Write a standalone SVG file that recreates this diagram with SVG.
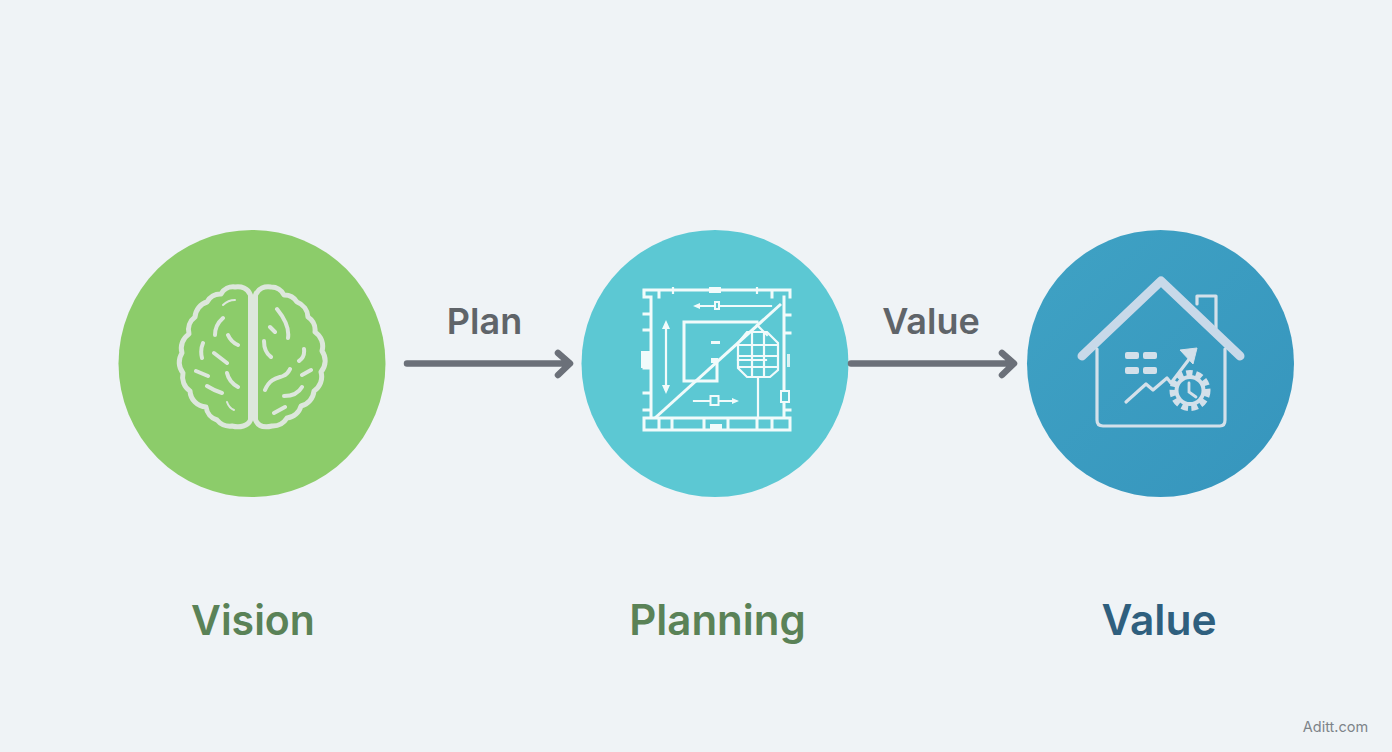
<svg xmlns="http://www.w3.org/2000/svg" width="1392" height="752" viewBox="0 0 1392 752">
<style>
.t{font-family:"Inter","Liberation Sans",sans-serif;font-weight:600;text-anchor:middle}
.arr{fill:#5f6469}
.conn{fill:none;stroke:#6b7079;stroke-width:6.500;stroke-linecap:round;stroke-linejoin:round}
.brain{fill:none;stroke:#dde7dc;stroke-width:5;stroke-linecap:round;stroke-linejoin:round}
.fold{fill:none;stroke:#dde7dc;stroke-width:4;stroke-linecap:round;stroke-linejoin:round}
.thin{fill:none;stroke:#dde7dc;stroke-width:2;stroke-linecap:round}
.plan{fill:none;stroke:#f1fbfb;stroke-width:3;stroke-linecap:square}
.pthin{fill:none;stroke:#f1fbfb;stroke-width:2.200;stroke-linecap:square}
.planf{fill:#f1fbfb}
.house{fill:none;stroke:#d3e0ea;stroke-width:3.200;stroke-linecap:round;stroke-linejoin:round}
</style>
<defs>
<linearGradient id="bl" x1="0" y1="0" x2="1" y2="1"><stop offset="0" stop-color="#3fa2c4"/><stop offset="1" stop-color="#3695bd"/></linearGradient>
</defs>
<rect width="1392" height="752" fill="#eff3f6"/>
<g id="vision">
<circle cx="252" cy="363.500" r="133.500" fill="#8ccc6a"/>
<path class="brain" d="M250.500 420V295C248 288 241 286 235 287A14 14 0 0 0 221 294A15 15 0 0 0 207 302A17 17 0 0 0 195 317A16 16 0 0 0 189 334A17 17 0 0 0 182 353A17 17 0 0 0 183 373A17 17 0 0 0 190 391A17 17 0 0 0 206 407A16 16 0 0 0 217 420A17 17 0 0 0 232 426C240 428 248 426 250.500 420Z"/>
<path class="brain" d="M255.500 420V295C258 288 265 286 271 287A14 14 0 0 1 284 295A15 15 0 0 1 297 302A17 17 0 0 1 308 317A16 16 0 0 1 315 332A17 17 0 0 1 322 351A17 17 0 0 1 321 372A17 17 0 0 1 314 391A17 17 0 0 1 301 406A16 16 0 0 1 287 418A17 17 0 0 1 272 426C264 428 258 426 255.500 420Z"/>
<path class="fold" d="M223 318Q215 325 215 335M228 335Q231 342 238 345M203 343Q200 350 202 358M214 353L227 363M196 371L208 376M227 373Q229 382 238 387M207 386Q215 391 222 393M277 309Q290 325 288 338M270 327L275 332M264 341Q264 352 271 357M304 349Q305 357 299 361M302 375L311 370M265 390C270 378 278 378 283 376C288 374 289 371 290 369M284 396Q297 396 302 387M274 413L285 407"/>
<path class="thin" d="M223 305Q228 300 235 300M227 402Q229 408 234 410"/>
</g>
<g id="planning">
<circle cx="715" cy="363.500" r="133.500" fill="#5cc8d3"/>
<path class="plan" d="M644 290H790V297M644 290V297H651V418M659 297V291M784 297V418M644 418H790V430H644ZM644 314H651M644 330H651M644 368H651M644 393H651M644 410H651M784 315H790M784 333H790M784 410H790M659 418V430M672 418V430M704 418V430M728 418V430M757 418V430M772 418V430M772 290V297"/>
<path class="plan" d="M684 322H757M684 322V381H717V360"/>
<path class="pthin" d="M694 401H736M697 306H771M666 325V390M766 360H738M758 378V418M757 325L767 335M673 288V293M757 288V293M644 290V294"/>
<path d="M655 418L781 304" fill="none" stroke="#f1fbfb" stroke-width="3"/>
<path class="pthin" d="M747 332H767L778 343V370L770 377H747L738 368V343ZM752 332V377M764 332V377M738 345H778M738 356H778M738 367H778"/>
<rect class="planf" x="709" y="287" width="12" height="6"/>
<rect class="planf" x="710" y="424" width="12" height="7"/>
<rect class="planf" x="641" y="351" width="9" height="17"/>
<rect x="781" y="391" width="8" height="11" fill="#5cc8d3" stroke="#f1fbfb" stroke-width="2"/>
<rect class="planf" x="711" y="341" width="9" height="3"/>
<rect class="planf" x="711" y="358" width="7" height="5"/>
<rect x="710.500" y="396" width="8" height="9" fill="#5cc8d3" stroke="#f1fbfb" stroke-width="2"/>
<rect x="715" y="302" width="4" height="7" fill="#5cc8d3" stroke="#f1fbfb" stroke-width="2"/>
<rect x="787" y="354" width="3" height="13" fill="#d8f3f4"/>
<path class="planf" d="M666 320L670 329H662ZM666 394L670 385H662ZM693 306L700 303V309ZM739 401L732 398V404Z"/>
</g>
<g id="value">
<circle cx="1160.500" cy="363.500" r="133.500" fill="url(#bl)"/>
<path class="house" d="M1197 304V296H1216V328"/>
<path d="M1082 356L1161 281L1240 356" fill="none" stroke="#c8d9e9" stroke-width="9" stroke-linecap="round" stroke-linejoin="round"/>
<path class="house" d="M1097 349V420Q1097 426 1103 426H1220Q1225 426 1225 420V349"/>
<g fill="#d3e0ea"><rect x="1125" y="352" width="14" height="7" rx="2"/><rect x="1143" y="352" width="14" height="7" rx="2"/><rect x="1125" y="367" width="14" height="7" rx="2"/><rect x="1143" y="367" width="14" height="7" rx="2"/></g>
<path class="house" d="M1126 402L1146 384L1153 390L1167 378L1171 383L1190 358" stroke-width="4"/>
<path d="M1180 350L1197 348L1193 364Z" fill="#d3e0ea" stroke="#d3e0ea" stroke-linejoin="round"/>
<circle cx="1190" cy="390.500" r="17" fill="none" stroke="#d3e0ea" stroke-width="7" stroke-dasharray="6.200 3.290"/>
<circle cx="1190" cy="390.500" r="13.500" fill="#3a9cc1" stroke="#d3e0ea" stroke-width="4"/>
<path d="M1189 383V392L1196 397" fill="none" stroke="#d3e0ea" stroke-width="2.800" stroke-linecap="round"/>
</g>
<g id="connectors">
<path class="conn" d="M407 363.500H568M558 353L570 363.500L558 375"/>
<path class="conn" d="M851 363.500H1012M1002 353L1014 363.500L1002 375"/>
</g>
<text class="t arr" x="484.500" y="334" font-size="36">Plan</text>
<text class="t arr" x="931" y="334" font-size="36">Value</text>
<text class="t" x="253" y="635" font-size="41" fill="#5a8257">Vision</text>
<text class="t" x="717.500" y="635" font-size="42" fill="#5a8257">Planning</text>
<text class="t" x="1159" y="635" font-size="42.500" fill="#2f5f7e">Value</text>
<text x="1335.500" y="732" text-anchor="middle" font-family="Inter,'Liberation Sans',sans-serif" font-size="14.500" fill="#7d8389">Aditt.com</text>
</svg>
